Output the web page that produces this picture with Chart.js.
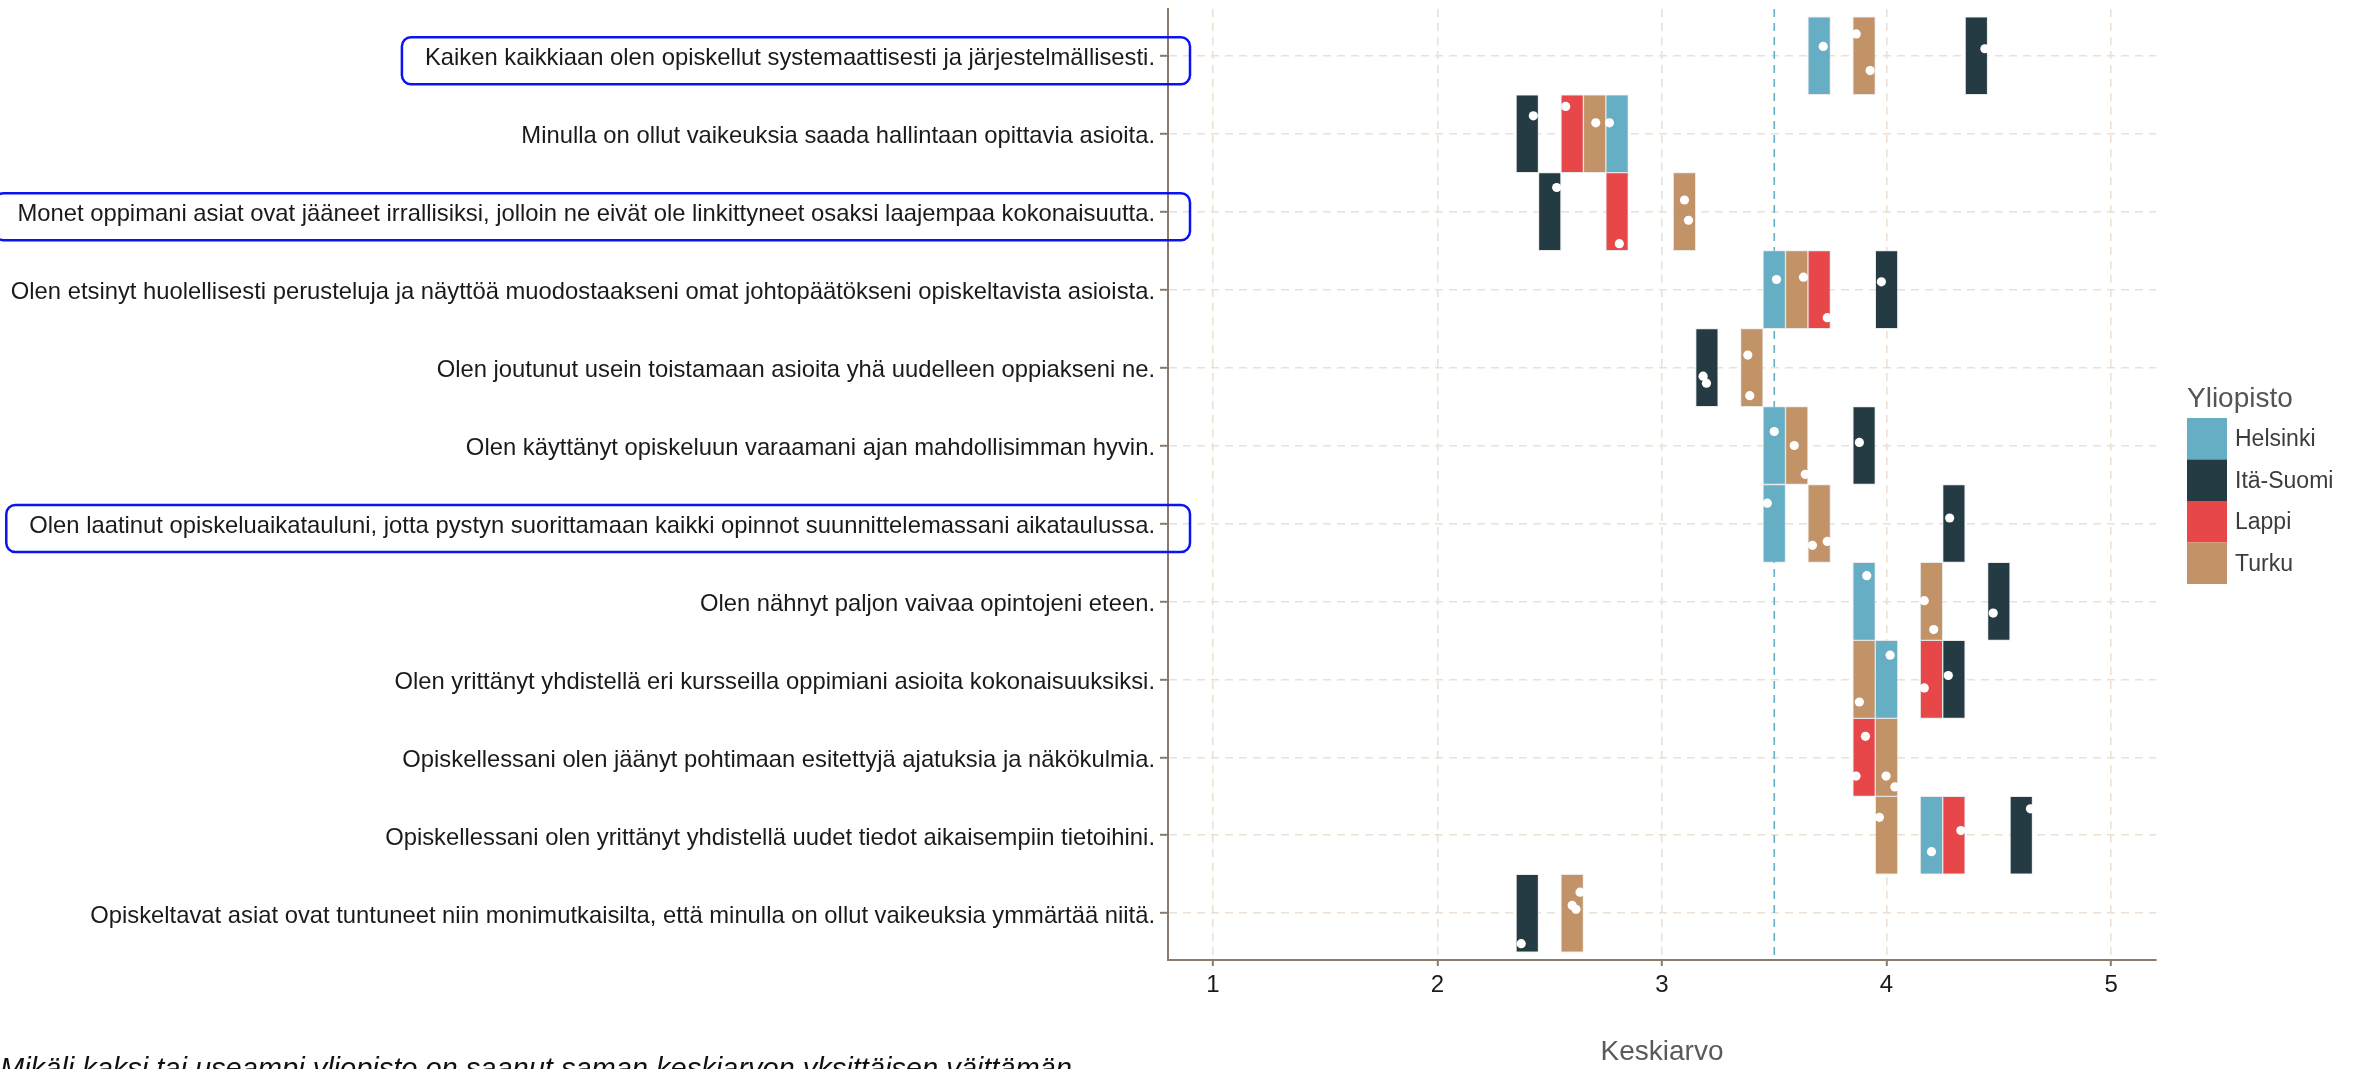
<!DOCTYPE html>
<html>
<head>
<meta charset="utf-8">
<script src="https://cdn.jsdelivr.net/npm/chart.js@4"></script>
<style>
html,body{margin:0;padding:0;background:#ffffff;overflow:hidden}
canvas{display:block}
</style>
</head>
<body>
<canvas id="c" width="2361" height="1069" style="width:2361px;height:1069px"></canvas>
<script>
// ---------------- DATA ----------------
const categories = [
  'Kaiken kaikkiaan olen opiskellut systemaattisesti ja järjestelmällisesti.',
  'Minulla on ollut vaikeuksia saada hallintaan opittavia asioita.',
  'Monet oppimani asiat ovat jääneet irrallisiksi, jolloin ne eivät ole linkittyneet osaksi laajempaa kokonaisuutta.',
  'Olen etsinyt huolellisesti perusteluja ja näyttöä muodostaakseni omat johtopäätökseni opiskeltavista asioista.',
  'Olen joutunut usein toistamaan asioita yhä uudelleen oppiakseni ne.',
  'Olen käyttänyt opiskeluun varaamani ajan mahdollisimman hyvin.',
  'Olen laatinut opiskeluaikatauluni, jotta pystyn suorittamaan kaikki opinnot suunnittelemassani aikataulussa.',
  'Olen nähnyt paljon vaivaa opintojeni eteen.',
  'Olen yrittänyt yhdistellä eri kursseilla oppimiani asioita kokonaisuuksiksi.',
  'Opiskellessani olen jäänyt pohtimaan esitettyjä ajatuksia ja näkökulmia.',
  'Opiskellessani olen yrittänyt yhdistellä uudet tiedot aikaisempiin tietoihini.',
  'Opiskeltavat asiat ovat tuntuneet niin monimutkaisilta, että minulla on ollut vaikeuksia ymmärtää niitä.'
];
const universities = ['Helsinki', 'Itä-Suomi', 'Lappi', 'Turku'];
const universityColors = ['#66AEC4', '#243B43', '#E8474A', '#C19366'];

// tile centre (mean rounded to 0.1) per statement, null = no tile
const tileHelsinki = [3.7, 2.8, null, 3.5, null, 3.5, 3.5, 3.9, 4.0, null, 4.2, null];
const tileItaSuomi = [4.4, 2.4, 2.5, 4.0, 3.2, 3.9, 4.3, 4.5, 4.3, null, 4.6, 2.4];
const tileLappi    = [null, 2.6, 2.8, 3.7, null, null, null, null, 4.2, 3.9, 4.3, null];
const tileTurku    = [3.9, 2.7, 3.1, 3.6, 3.4, 3.6, 3.7, 4.2, 3.9, 4.0, 4.0, 2.6];
const tileWidth = 0.1;

// jittered means: [statement index, mean, vertical jitter]
const pointsHelsinki = [[0,3.718,-0.12],[1,2.766,-0.14],[3,3.51,-0.13],[5,3.50,-0.18],[6,3.469,-0.26],[7,3.912,-0.33],[8,4.016,-0.31],[10,4.20,0.21]];
const pointsItaSuomi = [[0,4.438,-0.09],[1,2.427,-0.23],[2,2.531,-0.31],[3,3.977,-0.10],[4,3.183,0.11],[4,3.198,0.20],[5,3.879,-0.04],[6,4.281,-0.07],[7,4.475,0.15],[8,4.275,-0.05],[10,4.641,-0.34],[11,2.373,0.39]];
const pointsLappi    = [[1,2.571,-0.35],[2,2.81,0.41],[3,3.736,0.36],[8,4.168,0.11],[9,3.906,-0.27],[9,3.864,0.24],[10,4.331,-0.06]];
const pointsTurku    = [[0,3.865,-0.28],[0,3.927,0.19],[1,2.705,-0.14],[2,3.10,-0.15],[2,3.118,0.11],[3,3.63,-0.16],[4,3.382,-0.16],[4,3.391,0.36],[5,3.589,0.00],[5,3.638,0.37],[6,3.67,0.28],[6,3.736,0.23],[7,4.168,-0.01],[7,4.21,0.36],[8,3.879,0.29],[9,3.998,0.24],[9,4.037,0.38],[10,3.968,-0.23],[11,2.635,-0.27],[11,2.60,-0.10],[11,2.617,-0.05]];

const xTickValues = [1, 2, 3, 4, 5];
const xMin = 0.8, xMax = 5.2;
const referenceValue = 3.5;
const highlightedStatements = [0, 2, 6];
const xTitle = 'Keskiarvo';
const legendTitle = 'Yliopisto';
const footnote = 'Mikäli kaksi tai useampi yliopisto on saanut saman keskiarvon yksittäisen väittämän';

// ---------------- BUILD ----------------
const FONT = "'Liberation Sans', Arial, sans-serif";
const LABEL_SIZE = 23.8;
const Y_TICK_LEN = 8, Y_TICK_PAD = 5;
const AXIS = '#8C7B6B';
const GRID = '#EEDFD3';
const tiles = [tileHelsinki, tileItaSuomi, tileLappi, tileTurku];
const points = [pointsHelsinki, pointsItaSuomi, pointsLappi, pointsTurku];

const datasets = [];
tiles.forEach((arr, u) => {
  datasets.push({
    type: 'bar',
    label: universities[u],
    indexAxis: 'y',
    grouped: false,
    barPercentage: 1,
    categoryPercentage: 1,
    backgroundColor: universityColors[u],
    borderColor: 'rgba(215,215,215,0.55)',
    borderWidth: 1,
    borderSkipped: false,
    order: 1,
    data: arr.map((v, i) => v === null ? null : { x: [v - tileWidth / 2, v + tileWidth / 2], y: i }).filter(d => d)
  });
});
points.forEach((arr, u) => {
  datasets.push({
    type: 'scatter',
    label: universities[u] + ' (ka)',
    pointRadius: 4.6,
    pointHoverRadius: 4.6,
    pointBackgroundColor: '#ffffff',
    pointBorderWidth: 0,
    order: 0,
    data: arr.map(([c, v, j]) => ({ x: v, y: c + j }))
  });
});
datasets.push({
  type: 'line',
  label: 'ref',
  data: [{ x: referenceValue, y: -0.6 }, { x: referenceValue, y: categories.length - 1 + 0.6 }],
  borderColor: '#66AEC4',
  borderWidth: 1.6,
  borderDash: [8, 6],
  pointRadius: 0,
  fill: false,
  order: 2
});

const decorations = {
  id: 'decorations',
  afterDraw(chart) {
    const { ctx, chartArea } = chart;
    const ys = chart.scales.y;
    ctx.save();
    // highlight boxes around statements
    ctx.font = LABEL_SIZE + 'px ' + FONT;
    const labelRight = chartArea.left - Y_TICK_LEN - Y_TICK_PAD;
    highlightedStatements.forEach(i => {
      const yc = ys.getPixelForValue(i) + 5;
      const w = ctx.measureText(categories[i]).width;
      const left = labelRight - w - 23;
      const right = chartArea.left + 22;
      const h = 47;
      ctx.beginPath();
      ctx.roundRect(left, yc - h / 2, right - left, h, 9);
      ctx.lineWidth = 2.5;
      ctx.strokeStyle = '#0A14F0';
      ctx.stroke();
    });
    // legend
    const lx = chartArea.right + 31;
    const keyH = 41.5, keyW = 40;
    const keysTop = 418;
    ctx.fillStyle = '#555555';
    ctx.font = '28px ' + FONT;
    ctx.textBaseline = 'middle';
    ctx.textAlign = 'left';
    ctx.fillText(legendTitle, lx, keysTop - 19);
    universities.forEach((name, i) => {
      const top = keysTop + i * keyH;
      ctx.fillStyle = universityColors[i];
      ctx.fillRect(lx, top, keyW, keyH);
      ctx.fillStyle = '#3c3c3c';
      ctx.font = '23px ' + FONT;
      ctx.fillText(name, lx + keyW + 8, top + keyH / 2 + 1);
    });
    // footnote (cut off by the bottom edge, as in the original)
    ctx.fillStyle = '#111111';
    ctx.font = 'italic 29px ' + FONT;
    ctx.textBaseline = 'alphabetic';
    ctx.fillText(footnote, 0, 1078);
    ctx.restore();
  }
};

new Chart(document.getElementById('c'), {
  type: 'scatter',
  data: { datasets },
  options: {
    responsive: false,
    animation: false,
    devicePixelRatio: 1,
    layout: { padding: { top: 9, right: 205, bottom: 0, left: 0 } },
    plugins: { legend: { display: false }, tooltip: { enabled: false } },
    scales: {
      x: {
        type: 'linear',
        min: xMin,
        max: xMax,
        offset: false,
        afterBuildTicks: ax => { ax.ticks = xTickValues.map(v => ({ value: v })); },
        afterFit: ax => { ax.height = 109; ax.paddingLeft = 0; ax.paddingRight = 0; },
        grid: { offset: false, color: GRID, lineWidth: 1.6, drawTicks: true, tickLength: 6, tickColor: AXIS, tickWidth: 2 },
        border: { display: true, color: AXIS, width: 2, dash: [8, 6] },
        ticks: { color: '#1a1a1a', font: { family: FONT, size: 24 }, padding: 5, maxRotation: 0, autoSkip: false },
        title: { display: true, text: xTitle, color: '#5a5a5a', font: { family: FONT, size: 28 }, padding: { top: 0, bottom: 0 } }
      },
      y: {
        type: 'linear',
        min: -0.6,
        max: categories.length - 1 + 0.6,
        reverse: true,
        offset: false,
        afterBuildTicks: ax => { ax.ticks = categories.map((_, i) => ({ value: i })); },
        afterFit: ax => { ax.width = 1168; ax.paddingTop = 0; ax.paddingBottom = 0; },
        grid: { offset: false, color: GRID, lineWidth: 1.6, drawTicks: true, tickLength: Y_TICK_LEN, tickColor: AXIS, tickWidth: 2 },
        border: { display: true, color: AXIS, width: 2, dash: [8, 6] },
        ticks: { color: '#1a1a1a', font: { family: FONT, size: LABEL_SIZE }, padding: Y_TICK_PAD, labelOffset: 3, autoSkip: false, callback: v => categories[v] }
      }
    }
  },
  plugins: [decorations]
});
</script>
</body>
</html>
